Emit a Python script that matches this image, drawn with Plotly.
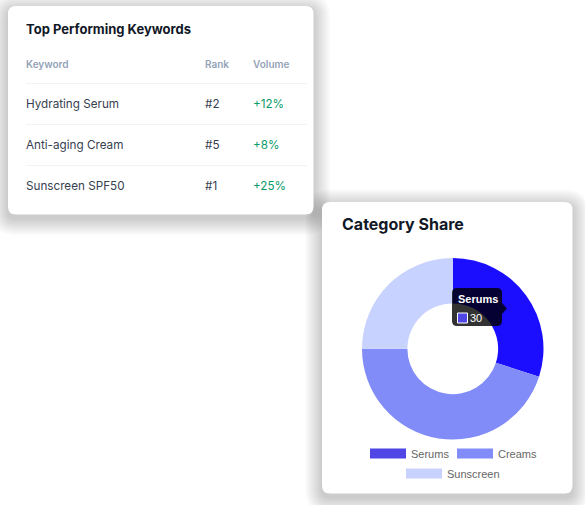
import plotly.graph_objects as go

# ---- data ----
keywords = ["Hydrating Serum", "Anti-aging Cream", "Sunscreen SPF50"]
ranks = ["#2", "#5", "#1"]
volumes = ["+12%", "+8%", "+25%"]
table_headers = ["Keyword", "Rank", "Volume"]

categories = ["Serums", "Creams", "Sunscreen"]
shares = [30, 45, 25]
base_colors = ["#4f46e5", "#818cf8", "#c7d2fe"]
slice_colors = ["#1b0eff", "#818cf8", "#c7d2fe"]  # Serums shown hovered

W, H = 585, 505
DX = -2  # annotation text padding compensation


def rrect(x0, y0, x1, y1, r):
    return (f"M{x0+r},{y0} L{x1-r},{y0} Q{x1},{y0} {x1},{y0+r} "
            f"L{x1},{y1-r} Q{x1},{y1} {x1-r},{y1} L{x0+r},{y1} "
            f"Q{x0},{y1} {x0},{y1-r} L{x0},{y0+r} Q{x0},{y0} {x0+r},{y0} Z")


shapes = []
annotations = []


def label(x, y, text, font, anchor="left"):
    annotations.append(dict(x=x + DX, y=y, xref="x", yref="y", text=text, showarrow=False,
                            xanchor=anchor, yanchor="middle", font=font))


cards = [(8, 6, 313.5, 214.5), (322, 202, 572.5, 493.5)]
for (x0, y0, x1, y1) in cards:
    n = 17
    for i in range(n, 0, -1):
        shapes.append(dict(type="path", xref="x", yref="y", layer="below",
                           path=rrect(x0 - i, y0 - i + 4, x1 + i, y1 + i + 4, 8 + i),
                           fillcolor="rgba(0,0,0,0.011)", line=dict(width=0)))
for (x0, y0, x1, y1) in cards:
    shapes.append(dict(type="path", xref="x", yref="y", layer="below",
                       path=rrect(x0, y0, x1, y1, 8),
                       fillcolor="#ffffff", line=dict(width=0)))

# ---- table card ----
INTER = "Inter, Noto Sans, sans-serif"
label(26, 29, "Top Performing Keywords",
      dict(family=INTER, size=13, color="#111827", weight=700))
col_x = [26, 205, 253]
for cx, h in zip(col_x, table_headers):
    label(cx, 64, h, dict(family=INTER, size=10, color="#94a3b8", weight=600))
for ly in [83.5, 124.5, 165.5]:
    shapes.append(dict(type="line", xref="x", yref="y", layer="below",
                       x0=26, x1=307, y0=ly, y1=ly, line=dict(color="#f1f3f6", width=1)))
row_y = [104, 145, 186]
for ry, k, rk, v in zip(row_y, keywords, ranks, volumes):
    label(col_x[0], ry, k, dict(family=INTER, size=11.7, color="#374151"))
    label(col_x[1], ry, rk, dict(family=INTER, size=11.7, color="#374151"))
    label(col_x[2], ry, v, dict(family=INTER, size=11.7, color="#079b68"))

# ---- chart card ----
label(342, 224, "Category Share", dict(family=INTER, size=16, color="#111827", weight=700))

ARIAL = "Arial, Liberation Sans, Helvetica, sans-serif"
legend_pos = [(370, 453.5), (457, 453.5), (406, 473.5)]
for (lx, ly), name, col in zip(legend_pos, categories, base_colors):
    shapes.append(dict(type="rect", xref="x", yref="y", layer="above",
                       x0=lx, x1=lx + 36, y0=ly - 5, y1=ly + 5,
                       fillcolor=col, line=dict(width=0)))
    label(lx + 41, ly, name, dict(family=ARIAL, size=11, color="#666666"))

# tooltip
tx0, ty0, tx1, ty1, tr = 452, 288, 502, 326, 5
tip_path = (f"M{tx0+tr},{ty0} L{tx1-tr},{ty0} Q{tx1},{ty0} {tx1},{ty0+tr} "
            f"L{tx1},{303} L{507},{308.5} L{tx1},{314} "
            f"L{tx1},{ty1-tr} Q{tx1},{ty1} {tx1-tr},{ty1} L{tx0+tr},{ty1} "
            f"Q{tx0},{ty1} {tx0},{ty1-tr} L{tx0},{ty0+tr} Q{tx0},{ty0} {tx0+tr},{ty0} Z")
shapes.append(dict(type="path", xref="x", yref="y", layer="above", path=tip_path,
                   fillcolor="rgba(0,0,0,0.8)", line=dict(width=0)))
shapes.append(dict(type="rect", xref="x", yref="y", layer="above",
                   x0=457.5, x1=467.5, y0=313, y1=323,
                   fillcolor=base_colors[0], line=dict(color="#ffffff", width=1)))
label(458, 298.5, f"<b>{categories[0]}</b>", dict(family=ARIAL, size=11, color="#ffffff"))
label(469.5, 318, str(shares[0]), dict(family=ARIAL, size=11, color="#ffffff"))

pie = go.Pie(labels=categories, values=shares, hole=0.5, sort=False,
             direction="clockwise", rotation=0,
             marker=dict(colors=slice_colors, line=dict(width=0)),
             textinfo="none", hoverinfo="none", showlegend=False,
             domain=dict(x=[362 / W, 543.5 / W], y=[(H - 439.5) / H, (H - 258) / H]))

fig = go.Figure(pie)
fig.add_trace(go.Scatter(x=[0, W], y=[0, H], mode="markers", marker=dict(opacity=0),
                         hoverinfo="skip", showlegend=False))
fig.update_layout(
    width=W, height=H, margin=dict(l=0, r=0, t=0, b=0),
    paper_bgcolor="#ffffff", plot_bgcolor="rgba(0,0,0,0)",
    xaxis=dict(range=[0, W], visible=False, fixedrange=True, domain=[0, 1]),
    yaxis=dict(range=[H, 0], visible=False, fixedrange=True, domain=[0, 1]),
    shapes=shapes, annotations=annotations, showlegend=False,
)
fig.write_html("out.html", config={"displayModeBar": False})
